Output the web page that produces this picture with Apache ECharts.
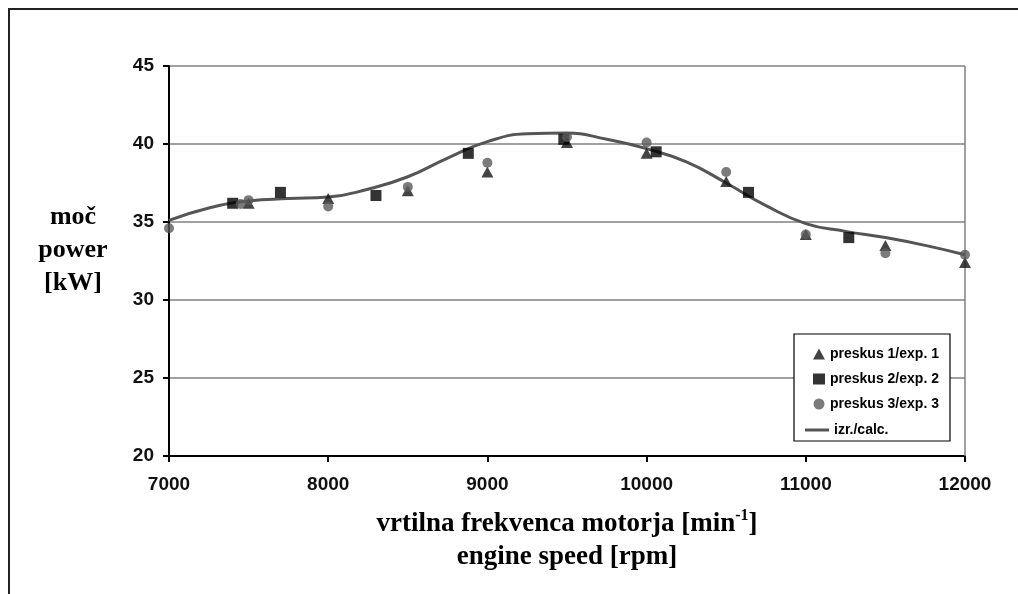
<!DOCTYPE html>
<html>
<head>
<meta charset="utf-8">
<script src="https://cdn.jsdelivr.net/npm/echarts@6/dist/echarts.min.js"></script>
<style>
html,body{margin:0;padding:0;background:#fff;}
#c{width:1018px;height:594px;}
</style>
</head>
<body>
<div id="c"></div>
<script>
// ---- data ----
var exp1Rpm = [7500, 8000, 8500, 9000, 9500, 10000, 10500, 11000, 11500, 12000];
var exp1Pow = [36.2, 36.5, 37.0, 38.2, 40.1, 39.4, 37.6, 34.2, 33.5, 32.4];

var exp2Rpm = [7400, 7700, 8300, 8880, 9480, 10060, 10640, 11270];
var exp2Pow = [36.2, 36.9, 36.7, 39.4, 40.3, 39.5, 36.9, 34.0];

var exp3Rpm = [7000, 7450, 7500, 8000, 8500, 9000, 9500, 10000, 10500, 11000, 11500, 12000];
var exp3Pow = [34.6, 36.15, 36.4, 36.0, 37.25, 38.8, 40.45, 40.1, 38.2, 34.2, 33.0, 32.9];

var calcRpm = [7000, 7250, 7500, 7750, 8000, 8250, 8500, 8750, 9000, 9250, 9500, 9750, 10000, 10250, 10500, 10750, 11000, 11250, 11500, 11750, 12000];
var calcPow = [35.1, 35.9, 36.35, 36.5, 36.6, 37.1, 37.9, 39.1, 40.15, 40.65, 40.7, 40.3, 39.7, 38.85, 37.5, 36.05, 34.9, 34.4, 34.0, 33.5, 32.9];

var names = ['preskus 1/exp. 1', 'preskus 2/exp. 2', 'preskus 3/exp. 3', 'izr./calc.'];
var xTicks = [7000, 8000, 9000, 10000, 11000, 12000];
var yTicks = [20, 25, 30, 35, 40, 45];

function pairs(xs, ys) { return xs.map(function (x, i) { return [x, ys[i]]; }); }

var chart = echarts.init(document.getElementById('c'), null, {renderer: 'canvas'});
var serif = '"Liberation Serif", "Times New Roman", serif';
var sans = '"Liberation Sans", Arial, sans-serif';

chart.setOption({
  animation: false,
  backgroundColor: '#fff',
  grid: {left: 169, right: 53, top: 66, bottom: 138, show: false},
  xAxis: {
    type: 'value', min: xTicks[0], max: xTicks[xTicks.length - 1], interval: 1000,
    axisLine: {show: true, lineStyle: {color: '#000', width: 2}},
    axisTick: {show: true, length: 6, lineStyle: {color: '#000', width: 2}},
    splitLine: {show: false},
    axisLabel: {color: '#111', fontFamily: sans, fontWeight: 'bold', fontSize: 19, margin: 19,
      formatter: function (v) { return String(v); }}
  },
  yAxis: {
    type: 'value', min: yTicks[0], max: yTicks[yTicks.length - 1], interval: 5,
    axisLine: {show: true, onZero: false, lineStyle: {color: '#000', width: 2}},
    axisTick: {show: true, length: 6, lineStyle: {color: '#000', width: 2}},
    splitLine: {show: true, lineStyle: {color: '#808080', width: 1.5}},
    axisLabel: {color: '#111', fontFamily: sans, fontWeight: 'bold', fontSize: 19, margin: 15}
  },
  legend: [{
    data: [
      {name: names[0], icon: 'triangle'},
      {name: names[1], icon: 'rect'},
      {name: names[2], icon: 'circle'}
    ],
    z: 20,
    orient: 'vertical', left: 808, top: 342, itemWidth: 12, itemHeight: 11, itemGap: 11,
    textStyle: {color: '#000', fontFamily: sans, fontWeight: 'bold', fontSize: 14}
  }, {
    data: [{name: names[3], icon: 'rect'}],
    z: 20,
    orient: 'vertical', left: 800, top: 418, itemWidth: 24, itemHeight: 3,
    textStyle: {color: '#000', fontFamily: sans, fontWeight: 'bold', fontSize: 14}
  }],
  graphic: [
    {type: 'rect', shape: {x: 9, y: 9, width: 1200, height: 800}, style: {fill: 'none', stroke: '#222', lineWidth: 2}, z: 0},
    {type: 'line', shape: {x1: 965, y1: 66, x2: 965, y2: 456}, style: {stroke: '#808080', lineWidth: 1.5}, z: 1},
    {type: 'rect', shape: {x: 794, y: 334, width: 156, height: 107}, style: {fill: '#fff', stroke: '#000', lineWidth: 1.2}, z: 2},
    {type: 'text', x: 73, y: 250, style: {text: 'moč\npower\n[kW]', fontFamily: serif, fontWeight: 'bold', fontSize: 26, lineHeight: 33, fill: '#000', align: 'center', verticalAlign: 'middle'}},
    {type: 'text', x: 567, y: 541, style: {
      text: '{a|vrtilna frekvenca motorja [min}{s|-1}{a|]}\n{a|engine speed [rpm]}',
      fontFamily: serif, fontWeight: 'bold', fontSize: 27, fill: '#000', align: 'center', verticalAlign: 'middle',
      rich: {
        a: {fontFamily: serif, fontWeight: 'bold', fontSize: 27, lineHeight: 33, fill: '#000'},
        s: {fontFamily: serif, fontWeight: 'bold', fontSize: 16, lineHeight: 33, verticalAlign: 'top', padding: [0, 0, 14, 0], fill: '#000'}
      }
    }}
  ],
  series: [
    {
      name: names[3], type: 'line', data: pairs(calcRpm, calcPow), smooth: true, symbol: 'none',
      lineStyle: {color: '#555', width: 3}, itemStyle: {color: '#555'}, z: 2
    },
    {
      name: names[0], type: 'scatter', data: pairs(exp1Rpm, exp1Pow), symbol: 'triangle', symbolSize: [12, 11],
      itemStyle: {color: '#151515'}, z: 3
    },
    {
      name: names[1], type: 'scatter', data: pairs(exp2Rpm, exp2Pow), symbol: 'rect', symbolSize: 11,
      itemStyle: {color: '#000'}, z: 3
    },
    {
      name: names[2], type: 'scatter', data: pairs(exp3Rpm, exp3Pow), symbol: 'circle', symbolSize: 10,
      itemStyle: {color: '#5a5a5a'}, z: 4
    }
  ]
});
</script>
</body>
</html>
